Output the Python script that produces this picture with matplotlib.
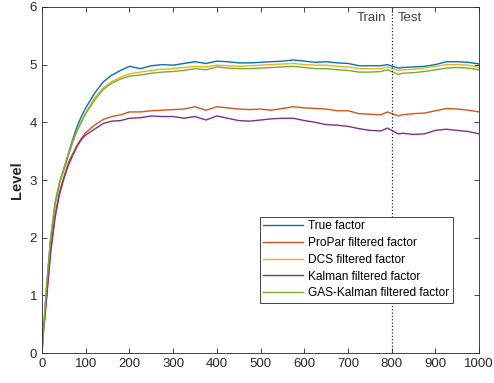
import numpy as np
import matplotlib
matplotlib.use('Agg')
import matplotlib.pyplot as plt

plt.rcParams['font.family'] = ['Liberation Sans', 'DejaVu Sans']

# time points
t = [0, 5, 10, 20, 30, 40, 50, 60, 70, 80, 90, 100, 120, 140, 160, 180, 200,
     225, 250, 275, 300, 325, 350, 375, 400, 425, 450, 475, 500, 525, 550, 575,
     600, 625, 650, 675, 700, 725, 750, 775, 790, 815, 825, 850, 875, 900, 925,
     950, 975, 1000]

true_f = [0.0, 0.55, 1.1, 2.0, 2.6, 2.95, 3.2, 3.45, 3.7, 3.92, 4.1, 4.25, 4.5, 4.7,
          4.82, 4.9, 4.97,
          4.93, 4.98, 5.0, 4.99, 5.02, 5.05, 5.02, 5.06, 5.05, 5.03, 5.03, 5.04, 5.05,
          5.06, 5.08, 5.06, 5.04, 5.05, 5.03, 5.02, 4.98, 4.98, 4.98, 5.0, 4.94, 4.95,
          4.96, 4.97, 5.0, 5.05, 5.05, 5.04, 5.01]
propar = [0.2, 0.5, 0.95, 1.8, 2.4, 2.8, 3.05, 3.3, 3.45, 3.6, 3.72, 3.82, 3.95, 4.05,
          4.1, 4.13, 4.18,
          4.18, 4.2, 4.21, 4.22, 4.23, 4.27, 4.21, 4.27, 4.25, 4.23, 4.22, 4.23, 4.21,
          4.24, 4.27, 4.25, 4.24, 4.23, 4.2, 4.2, 4.15, 4.14, 4.13, 4.18, 4.11, 4.13,
          4.15, 4.16, 4.2, 4.24, 4.23, 4.21, 4.18]
dcs = [0.0, 0.55, 1.1, 2.0, 2.6, 2.95, 3.18, 3.43, 3.66, 3.86, 4.02, 4.17, 4.42, 4.6,
       4.71, 4.78, 4.84,
       4.87, 4.9, 4.92, 4.93, 4.95, 4.97, 4.96, 4.99, 4.98, 4.97, 4.98, 4.99, 5.0,
       5.01, 5.02, 5.0, 4.99, 4.99, 4.97, 4.96, 4.93, 4.93, 4.93, 4.96, 4.9, 4.91,
       4.92, 4.94, 4.97, 5.0, 5.0, 4.99, 4.95]
kalman = [0.3, 0.5, 0.9, 1.75, 2.35, 2.75, 3.02, 3.25, 3.42, 3.58, 3.7, 3.78, 3.88,
          3.98, 4.02, 4.03, 4.07,
          4.08, 4.11, 4.1, 4.1, 4.07, 4.1, 4.04, 4.11, 4.07, 4.03, 4.02, 4.04, 4.06,
          4.07, 4.07, 4.03, 4.0, 3.96, 3.95, 3.93, 3.89, 3.86, 3.85, 3.9, 3.8, 3.81,
          3.79, 3.8, 3.86, 3.88, 3.86, 3.84, 3.8]
gas_kalman = [0.0, 0.55, 1.1, 2.0, 2.6, 2.95, 3.18, 3.42, 3.65, 3.85, 4.0, 4.15, 4.38,
              4.57, 4.68, 4.75, 4.8,
              4.82, 4.85, 4.87, 4.88, 4.9, 4.93, 4.91, 4.96, 4.94, 4.93, 4.93, 4.94,
              4.95, 4.96, 4.97, 4.95, 4.93, 4.93, 4.91, 4.9, 4.87, 4.87, 4.88, 4.91,
              4.83, 4.85, 4.86, 4.88, 4.91, 4.94, 4.95, 4.94, 4.91]

split = 800

fig = plt.figure(figsize=(4.94, 3.83), dpi=100)
ax = fig.add_axes([0.085, 0.078, 0.885, 0.904])

ax.plot(t, true_f, color='#0072BD', lw=1.0, label='True factor')
ax.plot(t, propar, color='#D95319', lw=1.0, label='ProPar filtered factor')
ax.plot(t, dcs, color='#EDB120', lw=1.0, label='DCS filtered factor')
ax.plot(t, kalman, color='#7E2F8E', lw=1.0, label='Kalman filtered factor')
ax.plot(t, gas_kalman, color='#77AC30', lw=1.0, label='GAS-Kalman filtered factor')

ax.axvline(split, color='#262626', ls=':', lw=0.9)
ax.text(split - 13, 5.81, 'Train', ha='right', va='center', fontsize=9.5, color='#404040')
ax.text(split + 13, 5.81, 'Test', ha='left', va='center', fontsize=9.5, color='#404040')

ax.set_xlim(0, 1000)
ax.set_ylim(0, 6)
ax.set_xticks(np.arange(0, 1001, 100))
ax.set_yticks(np.arange(0, 7, 1))
ax.set_ylabel('Level', fontsize=10.5, fontweight='bold', color='#262626', labelpad=4)
ax.tick_params(direction='in', top=True, right=True, labelsize=9.5,
               colors='#262626', length=3.5, width=0.6)
for s in ax.spines.values():
    s.set_color('#262626')
    s.set_linewidth(0.6)

leg = ax.legend(loc='lower right', bbox_to_anchor=(0.94, 0.145), fontsize=8.6,
                fancybox=False, edgecolor='#262626', framealpha=1,
                handlelength=3.35, borderpad=0.3, labelspacing=0.4,
                handletextpad=0.4, borderaxespad=0)
leg.get_frame().set_linewidth(0.6)

fig.savefig('out.png', dpi=100)
